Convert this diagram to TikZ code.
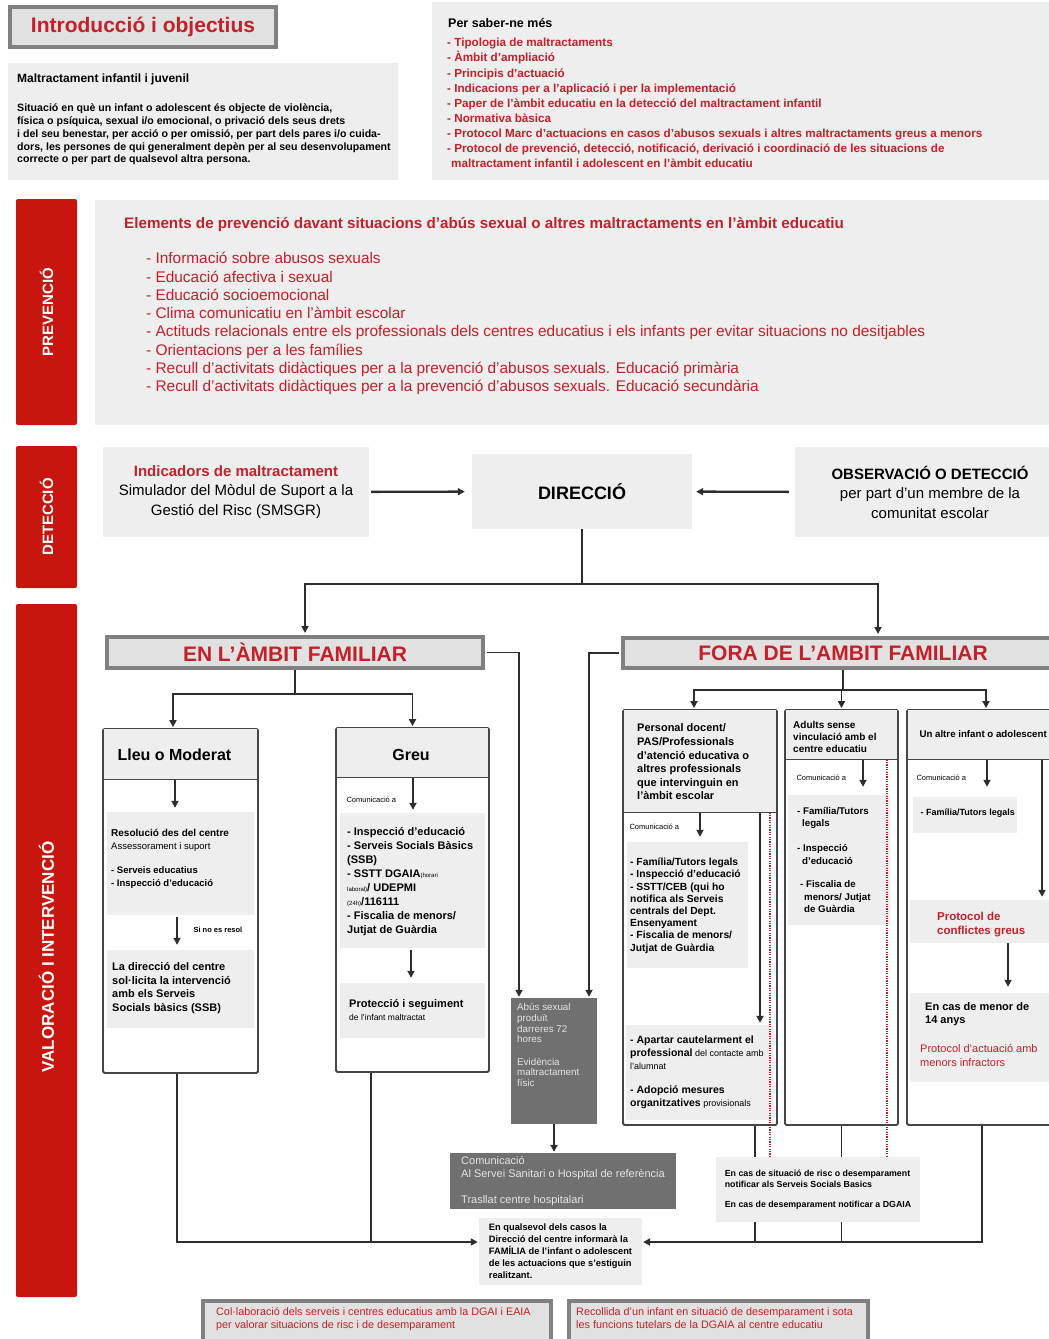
\documentclass[tikz,border=0pt]{standalone}
\usepackage{fontspec}
\setmainfont{Liberation Sans}
\usetikzlibrary{arrows.meta}
\definecolor{vermell}{RGB}{200,22,14}
\definecolor{vermelltxt}{RGB}{196,32,40}
\definecolor{grisfons}{RGB}{238,238,238}
\definecolor{grisvora}{RGB}{128,128,128}
\definecolor{griscap}{RGB}{225,225,225}
\definecolor{grisfosc}{RGB}{112,112,112}
\definecolor{fosctxt}{RGB}{228,228,228}
\definecolor{voracol}{RGB}{70,70,70}
\definecolor{liniacol}{RGB}{45,45,45}
\newcommand{\mida}[2]{\fontsize{#1}{#2}\selectfont}
\tikzset{
    %Define standard arrow tip
    >={Triangle[length=7pt,width=7pt]},
    %Define style for the red side bars
    barra/.style={
           rectangle,
           rounded corners=2pt,
           fill=vermell,
           inner sep=0pt},
    barratxt/.style={
           rotate=90,
           text=white,
           font=\bfseries\mida{15}{18}},
    %Define style for headers with grey frame
    capcal/.style={
           rectangle,
           draw=grisvora, line width=4pt,
           fill=griscap,
           text=vermelltxt,
           font=\bfseries\mida{21}{24},
           inner sep=0pt},
    peu/.style={
           rectangle,
           draw=grisvora, line width=4pt,
           fill=griscap,
           inner sep=0pt},
    %Define style for boxes
    caixa/.style={
           rectangle,
           rounded corners=1.5pt,
           draw=voracol, line width=1.8pt,
           inner sep=0pt},
    fons/.style={
           rectangle,
           fill=grisfons,
           inner sep=0pt},
    capfons/.style={
           fons,
           anchor=north},
    fosc/.style={
           rectangle,
           fill=grisfosc,
           inner sep=0pt},
    txt/.style={
           inner sep=0pt,
           anchor=north west,
           align=left},
    % Define line and arrow styles
    vora/.style={
           draw=voracol, line width=1.8pt},
    linia/.style={
           draw=liniacol, line width=1.8pt},
    fletxa/.style={
           ->,
           draw=liniacol, line width=1.8pt},
    punts/.style={
           draw=vermelltxt, line width=1.2pt,
           dash pattern=on 1.2pt off 1.2pt}
}
\begin{document}
\begin{tikzpicture}[x=1pt, y=-1pt]
\useasboundingbox (0,0) rectangle (1049,1339);

%introduction
\node[capcal, minimum width=266pt, minimum height=40pt] (intro) at (143,27) {Introducció i objectius};
\node[fons, minimum width=390pt, minimum height=117pt] (malt) at (203,121.5) {};
\node[txt, font=\bfseries\mida{12}{12.7}] (malttitol) at (17,73.5) {Maltractament infantil i juvenil};
\node[txt, font=\bfseries\mida{10.6}{12.7}] (maltdef) at (17,104) {Situació en què un infant o adolescent és objecte de violència,\\física o psíquica, sexual i/o emocional, o privació dels seus drets\\i del seu benestar, per acció o per omissió, per part dels pares i/o cuida-\\dors, les persones de qui generalment depèn per al seu desenvolupament\\correcte o per part de qualsevol altra persona.};
\node[fons, minimum width=628pt, minimum height=178pt] (saber) at (746,91) {};
\node[txt, font=\bfseries\mida{12.5}{15}] (sabertitol) at (448,18.3) {Per saber-ne més};
\node[txt, text=vermelltxt, font=\bfseries\mida{11.7}{15.1}] (saberllista) at (447,38.2) {- Tipologia de maltractaments\\- Àmbit d'ampliació\\- Principis d'actuació\\- Indicacions per a l'aplicació i per la implementació\\- Paper de l'àmbit educatiu en la detecció del maltractament infantil\\- Normativa bàsica\\- Protocol Marc d'actuacions en casos d'abusos sexuals i altres maltractaments greus a menors\\- Protocol de prevenció, detecció, notificació, derivació i coordinació de les situacions de\\\hspace*{4pt}maltractament infantil i adolescent en l'àmbit educatiu};

%prevention
\node[barra, minimum width=61pt, minimum height=226pt] (barprev) at (46.5,312) {};
\node[barratxt] (txtprev) at (barprev.center) {PREVENCIÓ};
\node[fons, minimum width=965pt, minimum height=225pt] (prev) at (577.5,312.5) {};
\node[txt, text=vermelltxt, font=\bfseries\mida{15.2}{17}] (prevtitol) at (124,217.2) {Elements de prevenció davant situacions d'abús sexual o altres maltractaments en l'àmbit educatiu};
\node[txt, text=vermelltxt, font=\mida{15.4}{18.3}] (prevllista) at (146,252.2) {- Informació sobre abusos sexuals\\- Educació afectiva i sexual\\- Educació socioemocional\\- Clima comunicatiu en l'àmbit escolar\\- Actituds relacionals entre els professionals dels centres educatius i els infants per evitar situacions no desitjables\\- Orientacions per a les famílies\\- Recull d'activitats didàctiques per a la prevenció d'abusos sexuals. Educació primària\\- Recull d'activitats didàctiques per a la prevenció d'abusos sexuals. Educació secundària};

%detection
\node[barra, minimum width=61pt, minimum height=142pt] (bardet) at (46.5,517) {};
\node[barratxt] (txtdet) at (bardet.center) {DETECCIÓ};
\node[fons, minimum width=266pt, minimum height=90pt, align=center, font=\mida{15}{19.5}] (indic) at (236,492) {{\bfseries\color{vermelltxt}Indicadors de maltractament}\\Simulador del Mòdul de Suport a la\\Gestió del Risc (SMSGR)};
\node[fons, minimum width=220pt, minimum height=75pt, font=\bfseries\mida{18}{20}] (direccio) at (582,491.5) {DIRECCIÓ};
\node[fons, minimum width=270pt, minimum height=90pt, align=center, font=\mida{15}{19.5}] (observ) at (930,492) {{\bfseries OBSERVACIÓ O DETECCIÓ}\\per part d'un membre de la\\comunitat escolar};
\draw[fletxa, line width=2.4pt, shorten <=2pt, shorten >=7pt] (indic) -- (direccio);
\draw[fletxa, line width=2.4pt, shorten <=6pt, shorten >=4pt] (observ) -- (direccio);

%assessment and intervention
\node[barra, minimum width=61pt, minimum height=693pt] (barval) at (46.5,950.5) {};
\node[barratxt, font=\bfseries\mida{17}{20}] (txtval) at (46.5,957) {VALORACIÓ I INTERVENCIÓ};
\node[capcal, minimum width=376pt, minimum height=31pt] (enfam) at (295,652.5) {EN L’ÀMBIT FAMILIAR};
\node[capcal, minimum width=440pt, minimum height=30pt] (forafam) at (843,653) {FORA DE L’AMBIT FAMILIAR};

%left branch
\node[caixa, minimum width=155pt, minimum height=344pt] (lleu) at (180.5,901) {};
\node[capfons, minimum width=153pt, minimum height=50pt] (lleuhead) at ([yshift=-1pt]lleu.north) {};
\draw[vora] (lleu.west |- lleuhead.south) -- (lleu.east |- lleuhead.south);
\node[anchor=west, font=\bfseries\mida{16}{18}] (lleutitol) at (114,755) {Lleu o Moderat};
\node[fons, minimum width=147pt, minimum height=103pt] (lleub1) at (180.5,863.5) {};
\node[txt, font=\bfseries\mida{10}{12}] (lleuresol) at (111,829) {Resolució des del centre};
\node[txt, font=\mida{9.5}{12}] (lleuassess) at (111,842.5) {Assessorament i suport};
\node[txt, font=\bfseries\mida{9.5}{13}] (lleuserv) at (111,866.5) {- Serveis educatius\\- Inspecció d'educació};
\node[fons, minimum width=147pt, minimum height=78pt] (lleub2) at (180.5,989) {};
\node[anchor=west, font=\bfseries\mida{7.5}{9}] (lleusino) at (190,930) {Si no es resol};
\node[txt, font=\bfseries\mida{11}{13.6}] (lleudir) at (112,962.5) {La direcció del centre\\sol·licita la intervenció\\amb els Serveis\\Socials bàsics (SSB)};
\draw[fletxa, shorten >=4pt] ([xshift=-5.5pt]lleuhead.south) -- ([xshift=-5.5pt]lleub1.north);
\draw[fletxa, shorten <=2pt, shorten >=5pt] ([xshift=-3.5pt]lleub1.south) -- ([xshift=-3.5pt]lleub2.north);

\node[caixa, minimum width=153pt, minimum height=344pt] (greu) at (412.5,900) {};
\node[capfons, minimum width=151pt, minimum height=49pt] (greuhead) at ([yshift=-1pt]greu.north) {};
\draw[vora] (greu.west |- greuhead.south) -- (greu.east |- greuhead.south);
\node[font=\bfseries\mida{16}{18}] (greutitol) at (411,755) {Greu};
\node[anchor=west, font=\mida{7.5}{9}] (greucom) at (343,800) {Comunicació a};
\node[fons, minimum width=145pt, minimum height=135pt] (greub1) at (412.5,880.5) {};
\node[txt, font=\bfseries\mida{11}{13.9}] (greullista) at (347,827.6) {- Inspecció d'educació\\- Serveis Socials Bàsics\\(SSB)\\- SSTT DGAIA{\mdseries\mida{6}{7}(horari}\\{\mdseries\mida{6}{7}laboral)}/ UDEPMI\\{\mdseries\mida{6}{7}(24h)}/116111\\- Fiscalia de menors/\\Jutjat de Guàrdia};
\node[fons, minimum width=145pt, minimum height=55pt] (greub2) at (412.5,1010.5) {};
\node[txt, font=\bfseries\mida{11}{14}] (greuprot) at (349,999.6) {Protecció i seguiment};
\node[txt, font=\mida{8.5}{10}] (greuinf) at (349,1014.6) {de l'infant maltractat};
\draw[fletxa, shorten >=3pt] ([xshift=0.5pt]greuhead.south) -- ([xshift=0.5pt]greub1.north);
\draw[fletxa, shorten <=2pt, shorten >=5pt] ([xshift=-1.5pt]greub1.south) -- ([xshift=-1.5pt]greub2.north);

%right branch
\node[caixa, minimum width=154pt, minimum height=415pt] (col1) at (700,917.5) {};
\node[capfons, minimum width=152pt, minimum height=102pt] (col1head) at ([yshift=-1pt]col1.north) {};
\draw[vora] (col1.west |- col1head.south) -- (col1.east |- col1head.south);
\node[txt, font=\bfseries\mida{11}{13.6}] (col1titol) at (637,723.8) {Personal docent/\\PAS/Professionals\\d'atenció educativa o\\altres professionals\\que intervinguin en\\l'àmbit escolar};
\node[anchor=west, font=\mida{7.5}{9}] (col1com) at (626,827) {Comunicació a};
\node[fons, minimum width=121pt, minimum height=126pt] (col1b1) at (687.5,905) {};
\node[txt, font=\bfseries\mida{10.3}{12.2}] (col1llista) at (630,858) {- Família/Tutors legals\\- Inspecció d'educació\\- SSTT/CEB (qui ho\\notifica als Serveis\\centrals del Dept.\\Ensenyament\\- Fiscalia de menors/\\Jutjat de Guàrdia};
\node[fons, minimum width=148pt, minimum height=95pt] (col1b2) at (700,1072.5) {};
\node[txt, font=\mida{9}{13}] (col1mesures) at (630,1036) {{\bfseries\mida{10.5}{13}- Apartar cautelarment el}\\{\bfseries\mida{10.5}{13}professional} del contacte amb\\l'alumnat\\[11pt]{\bfseries\mida{10.5}{13}- Adopció mesures}\\{\bfseries\mida{10.5}{13}organitzatives} provisionals};
\draw[fletxa, shorten >=5pt] (col1head.south) -- (col1head.south |- col1b1.north);
\draw[fletxa, shorten >=2pt] ([xshift=60pt]col1head.south) -- ([xshift=60pt]col1head.south |- col1b2.north);

\node[caixa, minimum width=113pt, minimum height=415pt] (col2) at (841.5,917.5) {};
\node[capfons, minimum width=111pt, minimum height=49pt] (col2head) at ([yshift=-1pt]col2.north) {};
\draw[vora] (col2.west |- col2head.south) -- (col2.east |- col2head.south);
\node[txt, font=\bfseries\mida{10}{12}] (col2titol) at (793,721) {Adults sense\\vinculació amb el\\centre educatiu};
\node[anchor=west, font=\mida{7.5}{9}] (col2com) at (793,778) {Comunicació a};
\node[fons, minimum width=102pt, minimum height=130pt] (col2b1) at (839,860) {};
\node[txt, font=\bfseries\mida{9.7}{12.3}] (col2llista) at (797,807.3) {- Família/Tutors\\\hspace*{5pt}legals\\[12.5pt]- Inspecció\\\hspace*{5pt}d'educació\\[11.5pt]\hspace*{3pt}- Fiscalia de\\\hspace*{7pt}menors/ Jutjat\\\hspace*{7pt}de Guàrdia};
\draw[fletxa, shorten >=8pt] ([xshift=21.5pt]col2head.south) -- ([xshift=21.5pt]col2head.south |- col2b1.north);

\node[caixa, minimum width=158pt, minimum height=415pt] (col3) at (986,917.5) {};
\node[capfons, minimum width=156pt, minimum height=49pt] (col3head) at ([yshift=-1pt]col3.north) {};
\draw[vora] (col3.west |- col3head.south) -- (col3.east |- col3head.south);
\node[anchor=west, font=\bfseries\mida{9.7}{12}] (col3titol) at (916,734) {Un altre infant o adolescent};
\node[anchor=west, font=\mida{7.5}{9}] (col3com) at (913,778) {Comunicació a};
\node[fons, minimum width=104pt, minimum height=36pt] (col3b1) at (965,815) {};
\node[anchor=west, font=\bfseries\mida{9}{11}] (col3fam) at (917,813) {- Família/Tutors legals};
\node[fons, minimum width=154pt, minimum height=43pt] (col3b2) at (987,921.5) {};
\node[txt, text=vermelltxt, font=\bfseries\mida{11.5}{14}] (col3prot) at (937,911.6) {Protocol de\\conflictes greus};
\node[fons, minimum width=154pt, minimum height=89pt] (col3b3) at (987,1037.5) {};
\node[txt, font=\bfseries\mida{11}{13}] (col3menor) at (925,1002.6) {En cas de menor de\\14 anys};
\node[txt, text=vermelltxt, font=\mida{11}{14}] (col3infr) at (920,1044.6) {Protocol d'actuació amb\\menors infractors};
\draw[fletxa, shorten >=10pt] ([xshift=1pt]col3head.south) -- ([xshift=1pt]col3head.south |- col3b1.north);
\draw[fletxa, shorten >=3pt] ([xshift=56pt]col3head.south) -- ([xshift=56pt]col3head.south |- col3b2.north);
\draw[fletxa, shorten >=6pt] ([xshift=21pt]col3b2.south) -- ([xshift=21pt]col3b2.south |- col3b3.north);

%urgent cases
\node[fosc, minimum width=86pt, minimum height=126pt] (abus) at (554,1061) {};
\node[txt, text=fosctxt, font=\mida{9.8}{10.6}] (abustxt) at (517,1003.5) {Abús sexual\\produït\\darreres 72\\hores\\[12pt]Evidència\\maltractament\\físic};
\node[fosc, minimum width=226pt, minimum height=56pt, align=left, text=fosctxt, font=\mida{11}{13}] (comun) at (563,1181) {Comunicació\\Al Servei Sanitari o Hospital de referència\\[13pt]Trasllat centre hospitalari};
\node[fons, minimum width=163pt, minimum height=67pt, align=left, font=\bfseries\mida{9.3}{12}] (qualsevol) at (560.5,1251.5) {En qualsevol dels casos la\\Direcció del centre informarà la\\FAMÍLIA de l'infant o adolescent\\de les actuacions que s'estiguin\\realitzant.};
\coordinate (qesq) at ([yshift=9.5pt]qualsevol.west);
\coordinate (qdre) at ([yshift=9.5pt]qualsevol.east);

%connectors
\coordinate (dirsplit) at (582,584);
\coordinate (ensplit) at (295,694);
\coordinate (forasplit) at (843,690);
\draw[linia] (direccio) -- (dirsplit);
\draw[fletxa, shorten >=2pt] (dirsplit) -| ([xshift=10pt]enfam.north);
\draw[fletxa, shorten >=2pt] (dirsplit) -| ([xshift=35pt]forafam.north);
\draw[linia] (enfam) -- (ensplit);
\draw[fletxa, shorten >=1pt] (ensplit) -| ([xshift=-7.5pt]lleu.north);
\draw[fletxa, shorten >=1pt] (ensplit) -| (greu.north);
\draw[linia] (forafam) -- (forasplit);
\draw[fletxa, shorten >=1pt] (forasplit) -| ([xshift=-6pt]col1.north);
\draw[fletxa, shorten >=1pt] (forasplit) -| (col2.north);
\draw[fletxa, shorten >=1pt] (forasplit) -| (col3.north);
\draw[fletxa, shorten <=2pt, shorten >=1pt] (enfam.east) -| ([xshift=-35pt]abus.north);
\draw[fletxa, shorten <=2pt, shorten >=1pt] (forafam.west) -| ([xshift=35pt]abus.north);
\draw[fletxa, shorten >=1pt] (abus.south) -- (abus.south |- comun.north);
\draw[fletxa, shorten >=1pt] ([xshift=-3.5pt]lleu.south) |- (qesq);
\draw[linia] ([xshift=-41.5pt]greu.south) -- ([xshift=-41.5pt]greu.south |- qesq);
\draw[fletxa, shorten >=1pt] ([xshift=-4pt]col3.south) |- (qdre);
\draw[linia] ([xshift=55pt]col1.south) -- ([xshift=55pt]col1.south |- qdre);
\draw[linia] (col2.south) -- (col2.south |- qdre);
\node[fons, minimum width=204pt, minimum height=65pt, align=left, font=\bfseries\mida{8.8}{11.7}] (nota) at (818,1189.5) {En cas de situació de risc o desemparament\\notificar als Serveis Socials Basics\\[8pt]En cas de desemparament notificar a DGAIA};
\draw[punts] ([xshift=70pt]col1head.south) -- ([xshift=70pt]col1head.south |- nota.north);
\draw[punts] ([xshift=45.5pt]col2head.south) -- ([xshift=45.5pt]col2head.south |- nota.north);

%bottom boxes
\node[peu, minimum width=348pt, minimum height=46pt] (collab) at (377,1324) {};
\node[txt, text=vermelltxt, font=\mida{10.8}{13.8}] (collabtxt) at (216,1307) {Col·laboració dels serveis i centres educatius amb la DGAI i EAIA\\per valorar situacions de risc i de desemparament};
\node[peu, minimum width=299pt, minimum height=46pt] (recoll) at (718.5,1324) {};
\node[txt, text=vermelltxt, font=\mida{10.8}{13.8}] (recolltxt) at (576,1307) {Recollida d'un infant en situació de desemparament i sota\\les funcions tutelars de la DGAIA al centre educatiu};
\end{tikzpicture}
\end{document}
